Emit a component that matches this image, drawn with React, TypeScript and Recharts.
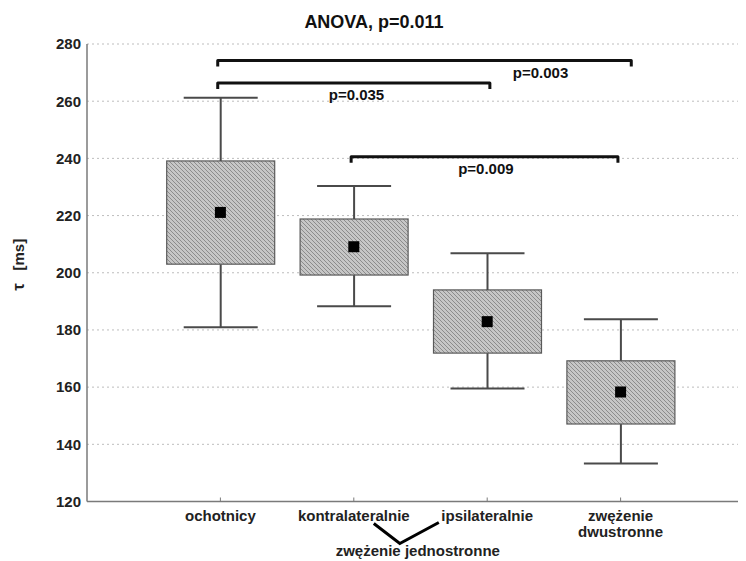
import React from 'react';
import {
  ComposedChart, Bar, Scatter, XAxis, YAxis, CartesianGrid, ReferenceLine,
} from 'recharts';

// group summary values (ms)
const categories = ['ochotnicy', 'kontralateralnie', 'ipsilateralnie', 'zwężenie\ndwustronne'];
const positions = [1, 2, 3, 4];
const whiskerLow = [180.9, 188.3, 159.5, 133.3];
const boxLow = [203.0, 199.2, 171.9, 147.1];
const means = [221.1, 209.1, 182.9, 158.3];
const boxHigh = [239.1, 218.8, 194.0, 169.2];
const whiskerHigh = [261.2, 230.3, 206.8, 183.7];
const yTicks = [120, 140, 160, 180, 200, 220, 240, 260, 280];

// pairwise tests drawn as brackets above the boxes
const compFrom = [0.98, 0.98, 1.98];
const compTo = [4.08, 3.02, 3.98];
const compLevel = [274.2, 266.4, 240.6];
const compLabel = ['p=0.003', 'p=0.035', 'p=0.009'];
const compLabelAt = [3.4, 2.02, 2.99];

const groupLabel = 'zwężenie jednostronne';
const groupFrom = 2;

const FONT = '"Liberation Sans", Arial, sans-serif';

const rows = positions.map((x, i) => ({
  x,
  base: whiskerLow[i],
  lower: boxLow[i] - whiskerLow[i],
  box: boxHigh[i] - boxLow[i],
  upper: whiskerHigh[i] - boxHigh[i],
  mean: means[i],
}));

const WHISKER = '#4a4a4a';
const AXIS = '#7a7a7a';
const CAP = 37;

const LowerWhisker = (p: any) => {
  const cx = p.x + p.width / 2;
  const yb = p.y + p.height;
  return (
    <g stroke={WHISKER} strokeWidth={2}>
      <line x1={cx} y1={p.y} x2={cx} y2={yb} />
      <line x1={cx - CAP} y1={yb} x2={cx + CAP} y2={yb} />
    </g>
  );
};

const UpperWhisker = (p: any) => {
  const cx = p.x + p.width / 2;
  return (
    <g stroke={WHISKER} strokeWidth={2}>
      <line x1={cx} y1={p.y} x2={cx} y2={p.y + p.height} />
      <line x1={cx - CAP} y1={p.y} x2={cx + CAP} y2={p.y} />
    </g>
  );
};

const HatchBox = (p: any) => (
  <rect x={p.x} y={p.y} width={p.width} height={p.height}
    fill="url(#hatch)" stroke="#5a5a5a" strokeWidth={1.2} />
);

const MeanMark = (p: any) => (
  <rect x={p.cx - 5.5} y={p.cy - 5.5} width={11} height={11} fill="#000" />
);

const makeBracket = (i: number) => (p: any) => {
  const { x1, x2, y1 } = p;
  const lx = x1 + ((x2 - x1) * (compLabelAt[i] - compFrom[i])) / (compTo[i] - compFrom[i]);
  return (
    <g>
      <path d={`M${x1},${y1 + 6} L${x1},${y1} L${x2},${y1} L${x2},${y1 + 6}`}
        fill="none" stroke="#111" strokeWidth={3} strokeLinejoin="round" />
      <text x={lx} y={y1 + 17} textAnchor="middle" fontFamily={FONT}
        fontWeight="bold" fontSize={15} fill="#111">{compLabel[i]}</text>
    </g>
  );
};

const BottomTick = (p: any) => {
  const { x, y, payload } = p;
  const idx = positions.indexOf(payload.value);
  const lines = (categories[idx] || '').split('\n');
  return (
    <g>
      <line x1={x} y1={y} x2={x} y2={y - 4} stroke={AXIS} />
      <text x={x} y={y + 19} textAnchor="middle" fontFamily={FONT} fontSize={15}
        fontWeight="bold" fill="#222">
        {lines.map((l, k) => (
          <tspan key={k} x={x} dy={k === 0 ? 0 : 16}>{l}</tspan>
        ))}
      </text>
      {payload.value === groupFrom && (
        <g>
          <path d={`M${x + 20},${y + 22} L${x + 46},${y + 42} L${x + 85},${y + 21}`}
            fill="none" stroke="#000" strokeWidth={3} />
          <text x={x + 64} y={y + 54} textAnchor="middle" fontFamily={FONT}
            fontSize={15} fontWeight="bold" fill="#222">{groupLabel}</text>
        </g>
      )}
    </g>
  );
};

const TopTick = (p: any) => (
  <line x1={p.x} y1={p.y} x2={p.x} y2={p.y + 4} stroke={AXIS} />
);

const YLabel = (p: any) => {
  const vb = p.viewBox;
  const cx = vb.x - 9;
  const cy = vb.y + vb.height / 2 - 8;
  return (
    <text x={cx} y={cy} transform={`rotate(-90 ${cx} ${cy})`} textAnchor="middle"
      dominantBaseline="central" fontFamily={FONT} fontSize={15} fontWeight="bold" fill="#222">
      <tspan fontSize={17}>τ</tspan>{'\u00a0\u00a0\u00a0'}[ms]
    </text>
  );
};

export default function App() {
  return (
    <div style={{ position: 'relative', marginTop: -8, marginLeft: -8, width: 746, height: 561, overflow: 'hidden', background: '#fff' }}>
      <ComposedChart width={754} height={575} data={rows}
        margin={{ top: 44, right: 0, bottom: 13.5, left: 27 }}>
        <defs>
          <pattern id="hatch" width={4} height={4} patternUnits="userSpaceOnUse">
            <rect width={4} height={4} fill="#c6c6c6" />
            <path d="M-1,-1 L5,5 M3,-1 L5,1 M-1,3 L1,5" stroke="#8c8c8c" strokeWidth={1} />
          </pattern>
        </defs>
        <text x={374} y={28} textAnchor="middle" fontFamily={FONT} fontSize={18}
          fontWeight="bold" fill="#111">ANOVA, p=0.011</text>
        <CartesianGrid vertical={false} stroke="#bdbdbd" strokeDasharray="2 3" />
        <XAxis dataKey="x" type="number" domain={[0, 5]} ticks={positions} interval={0}
          height={60} tickSize={0} tickMargin={0} tickLine={false} tick={<BottomTick />}
          axisLine={{ stroke: AXIS, strokeWidth: 1.5 }} allowDataOverflow />
        <XAxis xAxisId="top" orientation="top" type="number" domain={[0, 5]} ticks={positions}
          height={0} tickSize={0} tickMargin={0} tickLine={false} tick={<TopTick />}
          axisLine={{ stroke: AXIS, strokeWidth: 1.5 }} allowDataOverflow />
        <YAxis type="number" domain={[120, 280]} ticks={yTicks} interval={0} width={60}
          tickSize={0} tickMargin={6} tickLine={false} allowDataOverflow
          axisLine={{ stroke: AXIS, strokeWidth: 1.5 }}
          tick={{ fontFamily: FONT, fontSize: 15, fontWeight: 'bold', fill: '#222' }}
          label={<YLabel />} />
        <Bar dataKey="base" stackId="b" barSize={108} fill="none" shape={() => <g />} isAnimationActive={false} />
        <Bar dataKey="lower" stackId="b" barSize={108} shape={LowerWhisker} isAnimationActive={false} />
        <Bar dataKey="box" stackId="b" barSize={108} shape={HatchBox} isAnimationActive={false} />
        <Bar dataKey="upper" stackId="b" barSize={108} shape={UpperWhisker} isAnimationActive={false} />
        <Scatter dataKey="mean" shape={MeanMark} isAnimationActive={false} />
        {compLabel.map((_, i) => (
          <ReferenceLine key={i} ifOverflow="visible"
            segment={[{ x: compFrom[i], y: compLevel[i] }, { x: compTo[i], y: compLevel[i] }]}
            shape={makeBracket(i)} />
        ))}
      </ComposedChart>
    </div>
  );
}
